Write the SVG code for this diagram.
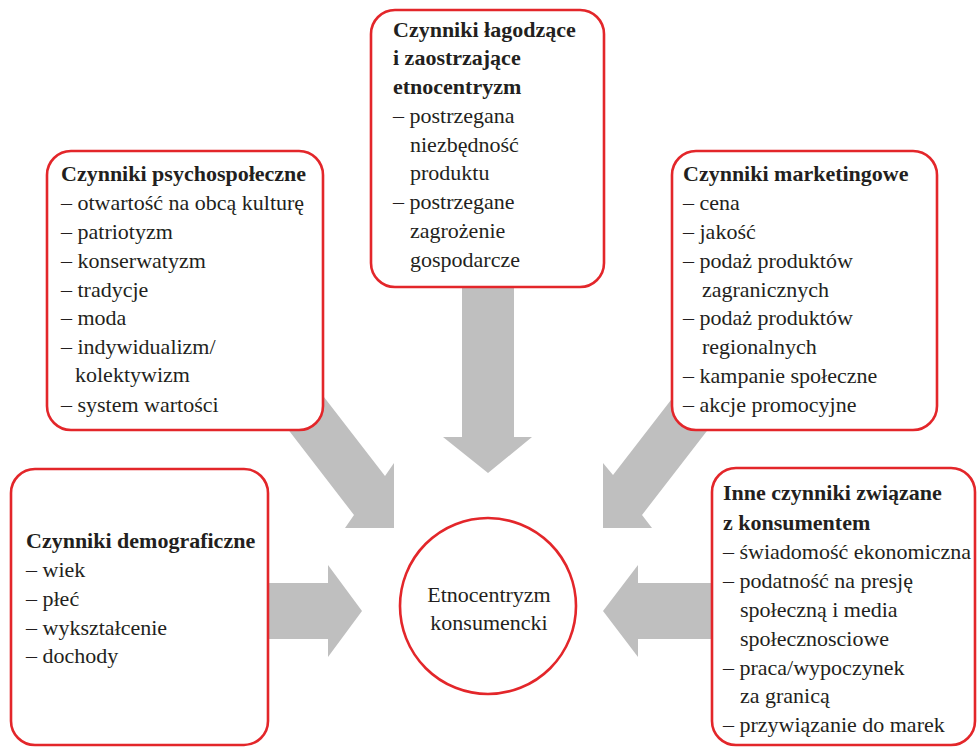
<svg xmlns="http://www.w3.org/2000/svg" width="977" height="747" viewBox="0 0 977 747">
<style>
.box{fill:#fff;stroke:#e3262a;stroke-width:2.6}
.arr{fill:#bfbfbf;stroke:none}
text{font-family:"Liberation Serif","Times New Roman",serif;font-size:22px;fill:#231f20}
.h{font-weight:bold}
</style>
<rect width="977" height="747" fill="#fff"/>
<g id="connectors">
<polygon class="arr" points="462,280 514,280 514,437 532,437 488,473 443,437 462,437"/>
<polygon class="arr" points="300,366 385,476 394,463 394,528 345,528 354,515 270,406"/>
<polygon class="arr" points="698,365 613,475 603,463 603,528 652,528 642,515 727,405"/>
<polygon class="arr" points="260,583 328,583 328,565 362,611 328,657 328,639 260,639"/>
<polygon class="arr" points="720,583 638,583 638,565 603,611 638,657 638,639 720,639"/>
</g>
<g id="node-top">
<rect class="box" x="371" y="10" width="233" height="277" rx="24"/>
<text class="h" x="393" y="37">Czynniki łagodzące</text>
<text class="h" x="393" y="65">i zaostrzające</text>
<text class="h" x="393" y="94">etnocentryzm</text>
<text x="393" y="123">– postrzegana</text>
<text x="410" y="152">niezbędność</text>
<text x="410" y="180">produktu</text>
<text x="393" y="209">– postrzegane</text>
<text x="410" y="238">zagrożenie</text>
<text x="410" y="267">gospodarcze</text>
</g>
<g id="node-psych">
<rect class="box" x="47" y="151" width="276" height="279" rx="24"/>
<text class="h" x="61" y="181">Czynniki psychospołeczne</text>
<text x="61" y="210">– otwartość na obcą kulturę</text>
<text x="61" y="239">– patriotyzm</text>
<text x="61" y="268">– konserwatyzm</text>
<text x="61" y="297">– tradycje</text>
<text x="61" y="325">– moda</text>
<text x="61" y="354">– indywidualizm/</text>
<text x="75" y="382">kolektywizm</text>
<text x="61" y="412">– system wartości</text>
</g>
<g id="node-marketing">
<rect class="box" x="672" y="151" width="265" height="279" rx="24"/>
<text class="h" x="683" y="181">Czynniki marketingowe</text>
<text x="683" y="210">– cena</text>
<text x="683" y="239">– jakość</text>
<text x="683" y="268">– podaż produktów</text>
<text x="702" y="297">zagranicznych</text>
<text x="683" y="325">– podaż produktów</text>
<text x="702" y="354">regionalnych</text>
<text x="683" y="383">– kampanie społeczne</text>
<text x="683" y="412">– akcje promocyjne</text>
</g>
<g id="node-demo">
<rect class="box" x="11" y="469" width="257" height="276" rx="24"/>
<text class="h" x="26" y="548">Czynniki demograficzne</text>
<text x="26" y="577">– wiek</text>
<text x="26" y="606">– płeć</text>
<text x="26" y="635">– wykształcenie</text>
<text x="26" y="663">– dochody</text>
</g>
<g id="node-other">
<rect class="box" x="712" y="468" width="263" height="277" rx="24"/>
<text class="h" x="723" y="500">Inne czynniki związane</text>
<text class="h" x="723" y="530">z konsumentem</text>
<text x="723" y="559">– świadomość ekonomiczna</text>
<text x="723" y="588">– podatność na presję</text>
<text x="740" y="617">społeczną i media</text>
<text x="740" y="646">społecznosciowe</text>
<text x="723" y="675">– praca/wypoczynek</text>
<text x="740" y="703">za granicą</text>
<text x="723" y="732">– przywiązanie do marek</text>
</g>
<g id="node-center">
<circle class="box" cx="488" cy="606" r="88"/>
<text x="489" y="602" text-anchor="middle">Etnocentryzm</text>
<text x="489" y="630" text-anchor="middle">konsumencki</text>
</g>
</svg>
